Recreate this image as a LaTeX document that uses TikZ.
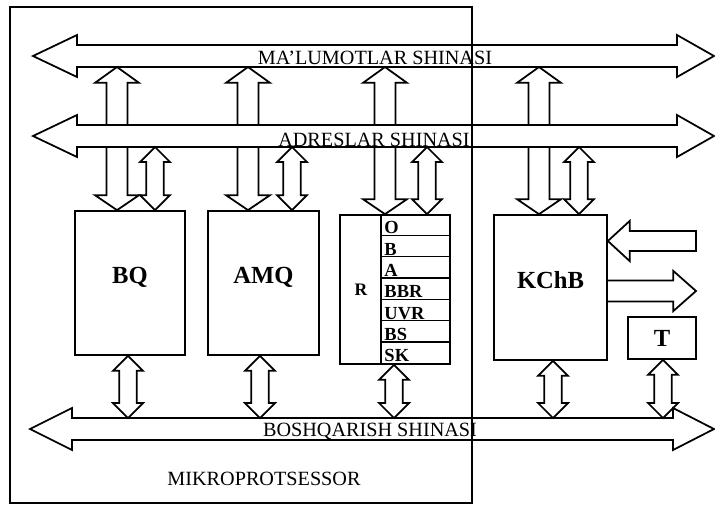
\documentclass[tikz,border=0pt]{standalone}
\usepackage{fontspec}
\setmainfont{Liberation Serif}
\usetikzlibrary{calc}

% fat arrows: #1 = point giving the column, #2 and #3 = the two ends
\newcommand\fatup[3]{\draw[fat] let \p3=#1, \p1=#2, \p2=#3 in
  (\x3-6pt,\y1) -- (\x3-6pt,\y2-9pt) -- (\x3-12.5pt,\y2-9pt) -- (\x3,\y2)
  -- (\x3+12.5pt,\y2-9pt) -- (\x3+6pt,\y2-9pt) -- (\x3+6pt,\y1);}
\newcommand\fatdown[3]{\draw[fat] let \p3=#1, \p1=#2, \p2=#3 in
  (\x3-6pt,\y1) -- (\x3-6pt,\y2+8.5pt) -- (\x3-12.5pt,\y2+8.5pt) -- (\x3,\y2)
  -- (\x3+12.5pt,\y2+8.5pt) -- (\x3+6pt,\y2+8.5pt) -- (\x3+6pt,\y1);}
\newcommand\fatboth[3]{\draw[fat] let \p3=#1, \p1=#2, \p2=#3 in
  (\x3,\y1) -- (\x3+8.5pt,\y1-8.5pt) -- (\x3+5pt,\y1-8.5pt) -- (\x3+5pt,\y2+8.5pt)
  -- (\x3+8.5pt,\y2+8.5pt) -- (\x3,\y2) -- (\x3-8.5pt,\y2+8.5pt) -- (\x3-5pt,\y2+8.5pt)
  -- (\x3-5pt,\y1-8.5pt) -- (\x3-8.5pt,\y1-8.5pt) -- cycle;}
\newcommand\fatleft[2]{\draw[fat] let \p1=#1, \p2=#2 in
  (\x1,\y2+5.7pt) -- (\x2+12.5pt,\y2+5.7pt) -- (\x2+12.5pt,\y2+11.5pt) -- (\x2,\y2)
  -- (\x2+12.5pt,\y2-11.5pt) -- (\x2+12.5pt,\y2-5.7pt) -- (\x1,\y2-5.7pt) -- cycle;}
\newcommand\fatright[2]{\draw[fat] let \p1=#1, \p2=#2 in
  (\x1,\y2+6pt) -- (\x2-13pt,\y2+6pt) -- (\x2-13pt,\y2+11.5pt) -- (\x2,\y2)
  -- (\x2-13pt,\y2-11.5pt) -- (\x2-13pt,\y2-6pt) -- (\x1,\y2-6pt);}
% bus: centre y, left tip, left head base, right head base, right tip
\newcommand\bus[5]{\draw[fat] (#2,#1) -- (#3,#1-21) -- (#3,#1-11) -- (#4,#1-11) -- (#4,#1-21)
  -- (#5,#1) -- (#4,#1+21) -- (#4,#1+11) -- (#3,#1+11) -- (#3,#1+21) -- cycle;}

\begin{document}
\begin{tikzpicture}[x=0.02cm, y=-0.02cm,
  fat/.style={draw, line width=1pt},
  blk/.style={draw, line width=1pt, inner sep=0pt},
  buslbl/.style={font=\fontsize{11.5}{13}\selectfont, inner sep=0pt},
  bold/.style={font=\fontsize{14}{16}\selectfont\bfseries, inner sep=0pt},
  regtxt/.style={font=\fontsize{10.5}{12}\selectfont\bfseries, inner sep=0pt}]
  \useasboundingbox (0,0) rectangle (715,508);

  % buses
  \bus{56}{33}{77}{677}{714}
  \bus{136}{33}{77}{677}{714}
  \bus{429}{30}{72}{673}{714}
  \node[buslbl] (ldata) at (375,58) {MA'LUMOTLAR SHINASI};
  \node[buslbl] (ladr) at (374,139.5) {ADRESLAR SHINASI};
  \node[buslbl] (lctl) at (370,431) {BOSHQARISH SHINASI};
  \coordinate (dbot) at (0,67);
  \coordinate (atop) at (0,125);
  \coordinate (abot) at (0,147);
  \coordinate (ctop) at (0,418);

  % microprocessor frame
  \node[blk, minimum width=9.24cm, minimum height=9.92cm] (mp) at (241,255) {};
  \node[buslbl] (mplbl) at (264,479) {MIKROPROTSESSOR};

  % blocks
  \node[blk, minimum width=2.2cm, minimum height=2.88cm,
    label={[bold, yshift=0.12cm]center:BQ}] (bq) at (130,283) {};
  \node[blk, minimum width=2.22cm, minimum height=2.88cm,
    label={[bold, yshift=0.12cm]center:AMQ}] (amq) at (263.5,283) {};
  \node[blk, minimum width=2.2cm, minimum height=2.98cm] (reg) at (395,289.5) {};
  \node[blk, minimum width=2.26cm, minimum height=2.9cm,
    label={[bold, yshift=0.15cm]center:KChB}] (kchb) at (550.5,287.5) {};
  \node[blk, minimum width=1.36cm, minimum height=0.84cm, bold] (t) at (662,338) {T};

  % register file
  \node[regtxt, font=\fontsize{10}{12}\selectfont\bfseries] (rlbl) at (361,290) {R};
  \draw[line width=1pt] ($(reg.north west)+(42,0)$) -- ($(reg.south west)+(42,0)$);
  \foreach \i in {1,...,6}
    \draw[line width=0.8pt] ($(reg.north west)+(42,\i*21.3)$) -- ($(reg.north east)+(0,\i*21.3)$);
  \foreach \t [count=\i] in {O,B,A,BBR,UVR,BS,SK}
    \node[regtxt, anchor=base west] (r\i) at ($(reg.north west)+(45,\i*21.3-1.5)$) {\t};

  % data bus <- address bus level, address bus -> blocks
  \foreach \b/\dx in {bq/-13, amq/-15.5, reg/-10, kchb/-11.5}{
    \fatup{($(\b.north)+(\dx,0)$)}{(atop)}{(dbot)}
    \fatdown{($(\b.north)+(\dx,0)$)}{(abot)}{(\b.north)}
  }
  \foreach \b/\dx in {bq/25, amq/28.5, reg/32, kchb/28.5}
    \fatboth{($(\b.north)+(\dx,0)$)}{(abot)}{(\b.north)};
  % blocks <-> control bus
  \foreach \b/\dx in {bq/-2, amq/-3.5, reg/-1, kchb/2.5, t/1}
    \fatboth{($(\b.south)+(\dx,0)$)}{(\b.south)}{(ctop)};

  % KChB in / out
  \coordinate (kin) at (696,241);
  \coordinate (kout) at (696,291);
  \fatleft{(kin)}{(kchb.east |- kin)}
  \fatright{(kchb.east |- kout)}{(kout)}
\end{tikzpicture}
\end{document}
